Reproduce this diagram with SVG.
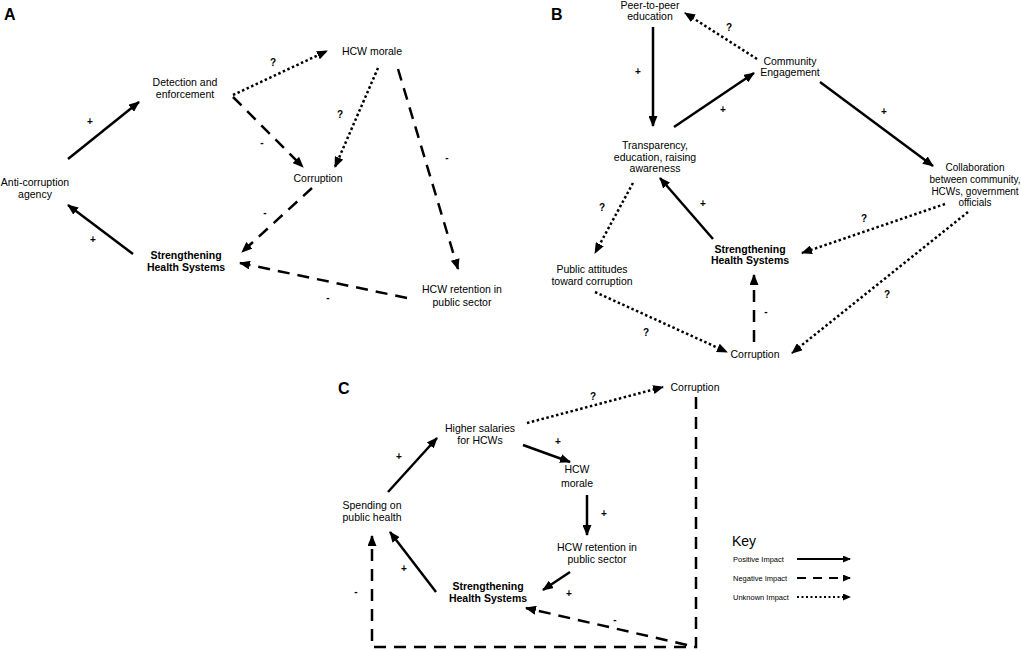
<svg xmlns="http://www.w3.org/2000/svg" width="1021" height="651" viewBox="0 0 1021 651">
<style>
text{font-family:"Liberation Sans",Arial,sans-serif;font-size:10.5px;fill:#000;text-anchor:middle}
.b{font-weight:bold}
.p{font-size:16px;font-weight:bold;text-anchor:start}
.s{font-size:10px;font-weight:bold}
.k{font-size:7.5px;text-anchor:start}
.l{fill:none;stroke:#000;stroke-width:2.5;marker-end:url(#ah)}
.d{stroke-dasharray:12 8}
.o{stroke-dasharray:2.5 2.5}
.kl{fill:none;stroke:#000;stroke-width:2;marker-end:url(#ahs)}
</style>
<defs>
<marker id="ah" markerUnits="userSpaceOnUse" markerWidth="11" markerHeight="9" refX="10" refY="4.5" orient="auto"><path d="M0,0 L11,4.5 L0,9 z" fill="#000"/></marker>
<marker id="ahs" markerUnits="userSpaceOnUse" markerWidth="8" markerHeight="7" refX="7" refY="3.5" orient="auto"><path d="M0,0 L8,3.5 L0,7 z" fill="#000"/></marker>
</defs>
<rect width="1021" height="651" fill="#fff"/>

<text class="p" x="4" y="20">A</text>
<text class="p" x="551" y="20">B</text>
<text class="p" x="338" y="394">C</text>

<g id="connectors">
<!-- A -->
<path class="l" d="M68,159 L139,102"/>
<path class="l" d="M133,254 L68,205"/>
<path class="l o" d="M233,95 L327,51"/>
<path class="l d" d="M233,97 L303,167"/>
<path class="l o" d="M378,68 L335,167"/>
<path class="l d" d="M398,69 L458,269"/>
<path class="l d" d="M312,188 L242,252"/>
<path class="l d" d="M407,298 L240,263"/>
<!-- B -->
<path class="l" d="M653,27 L653,126"/>
<path class="l o" d="M757,59 L685,13"/>
<path class="l" d="M674,127 L754,73"/>
<path class="l" d="M820,82 L933,166"/>
<path class="l o" d="M945,204 L802,253"/>
<path class="l o" d="M968,212 L792,353"/>
<path class="l" d="M713,239 L660,178"/>
<path class="l o" d="M633,183 L595,253"/>
<path class="l o" d="M595,292 L727,352"/>
<path class="l d" d="M754,342 L754,275"/>
<!-- C -->
<path class="l o" d="M527,423 L663,387"/>
<path class="l" d="M388,492 L437,438"/>
<path class="l" d="M523,445 L570,462"/>
<path class="l" d="M587,495 L587,535"/>
<path class="l" d="M570,572 L543,590"/>
<path class="l" d="M436,592 L390,532"/>
<path class="l d" d="M696,397 L696,647 L372,647 L372,536"/>
<path class="l d" d="M687,645 L526,608"/>
</g>

<g id="edge-labels">
<text class="s" x="90" y="125">+</text>
<text class="s" x="93" y="243">+</text>
<text class="s" x="273" y="66">?</text>
<text class="s" x="262" y="146">-</text>
<text class="s" x="340" y="118">?</text>
<text class="s" x="447" y="161">-</text>
<text class="s" x="265" y="216">-</text>
<text class="s" x="328" y="301">-</text>

<text class="s" x="638" y="75">+</text>
<text class="s" x="729" y="31">?</text>
<text class="s" x="723" y="113">+</text>
<text class="s" x="884" y="115">+</text>
<text class="s" x="864" y="222">?</text>
<text class="s" x="887" y="298">?</text>
<text class="s" x="703" y="207">+</text>
<text class="s" x="602" y="211">?</text>
<text class="s" x="646" y="336">?</text>
<text class="s" x="766" y="315">-</text>

<text class="s" x="593" y="400">?</text>
<text class="s" x="399" y="460">+</text>
<text class="s" x="558" y="445">+</text>
<text class="s" x="604" y="517">+</text>
<text class="s" x="569" y="597">+</text>
<text class="s" x="404" y="572">+</text>
<text class="s" x="356" y="595">-</text>
<text class="s" x="615" y="623">-</text>
</g>

<g id="a-detection"><text x="185" y="86">Detection and</text><text x="185" y="98">enforcement</text></g>
<g id="a-anticorruption"><text x="35" y="186">Anti-corruption</text><text x="35" y="198">agency</text></g>
<g id="a-strengthening"><text class="b" x="186" y="259">Strengthening</text><text class="b" x="186" y="271">Health Systems</text></g>
<g id="a-morale"><text x="372" y="55">HCW morale</text></g>
<g id="a-corruption"><text x="318" y="182">Corruption</text></g>
<g id="a-retention"><text x="462" y="293">HCW retention in</text><text x="462" y="306">public sector</text></g>

<g id="b-peer"><text x="650" y="9">Peer-to-peer</text><text x="650" y="20">education</text></g>
<g id="b-community"><text x="790" y="65">Community</text><text x="790" y="76">Engagement</text></g>
<g id="b-transparency"><text x="655" y="149">Transparency,</text><text x="655" y="161">education, raising</text><text x="655" y="172">awareness</text></g>
<g id="b-collaboration" style="font-size:10px"><text x="975" y="171" style="font-size:10px">Collaboration</text><text x="975" y="183" style="font-size:10px">between community,</text><text x="975" y="195" style="font-size:10px">HCWs, government</text><text x="975" y="206" style="font-size:10px">officials</text></g>
<g id="b-strengthening"><text class="b" x="750" y="253">Strengthening</text><text class="b" x="750" y="264">Health Systems</text></g>
<g id="b-public"><text x="592" y="273">Public attitudes</text><text x="592" y="285">toward corruption</text></g>
<g id="b-corruption"><text x="755" y="358">Corruption</text></g>

<g id="c-salaries"><text x="480" y="432">Higher salaries</text><text x="480" y="444">for HCWs</text></g>
<g id="c-corruption"><text x="695" y="391">Corruption</text></g>
<g id="c-morale"><text x="577" y="473">HCW</text><text x="577" y="487">morale</text></g>
<g id="c-spending"><text x="372" y="509">Spending on</text><text x="372" y="521">public health</text></g>
<g id="c-retention"><text x="597" y="551">HCW retention in</text><text x="597" y="563">public sector</text></g>
<g id="c-strengthening"><text class="b" x="488" y="590">Strengthening</text><text class="b" x="488" y="602">Health Systems</text></g>

<g id="key">
<text x="732" y="546" style="font-size:14px;text-anchor:start">Key</text>
<text class="k" x="733" y="562">Positive Impact</text>
<text class="k" x="733" y="581">Negative Impact</text>
<text class="k" x="733" y="600">Unknown Impact</text>
<path class="kl" d="M797,559 L850,559"/>
<path class="kl" d="M797,578 L850,578" style="stroke-dasharray:9 7"/>
<path class="kl" d="M797,597 L850,597" style="stroke-dasharray:2 2.5"/>
</g>
</svg>
